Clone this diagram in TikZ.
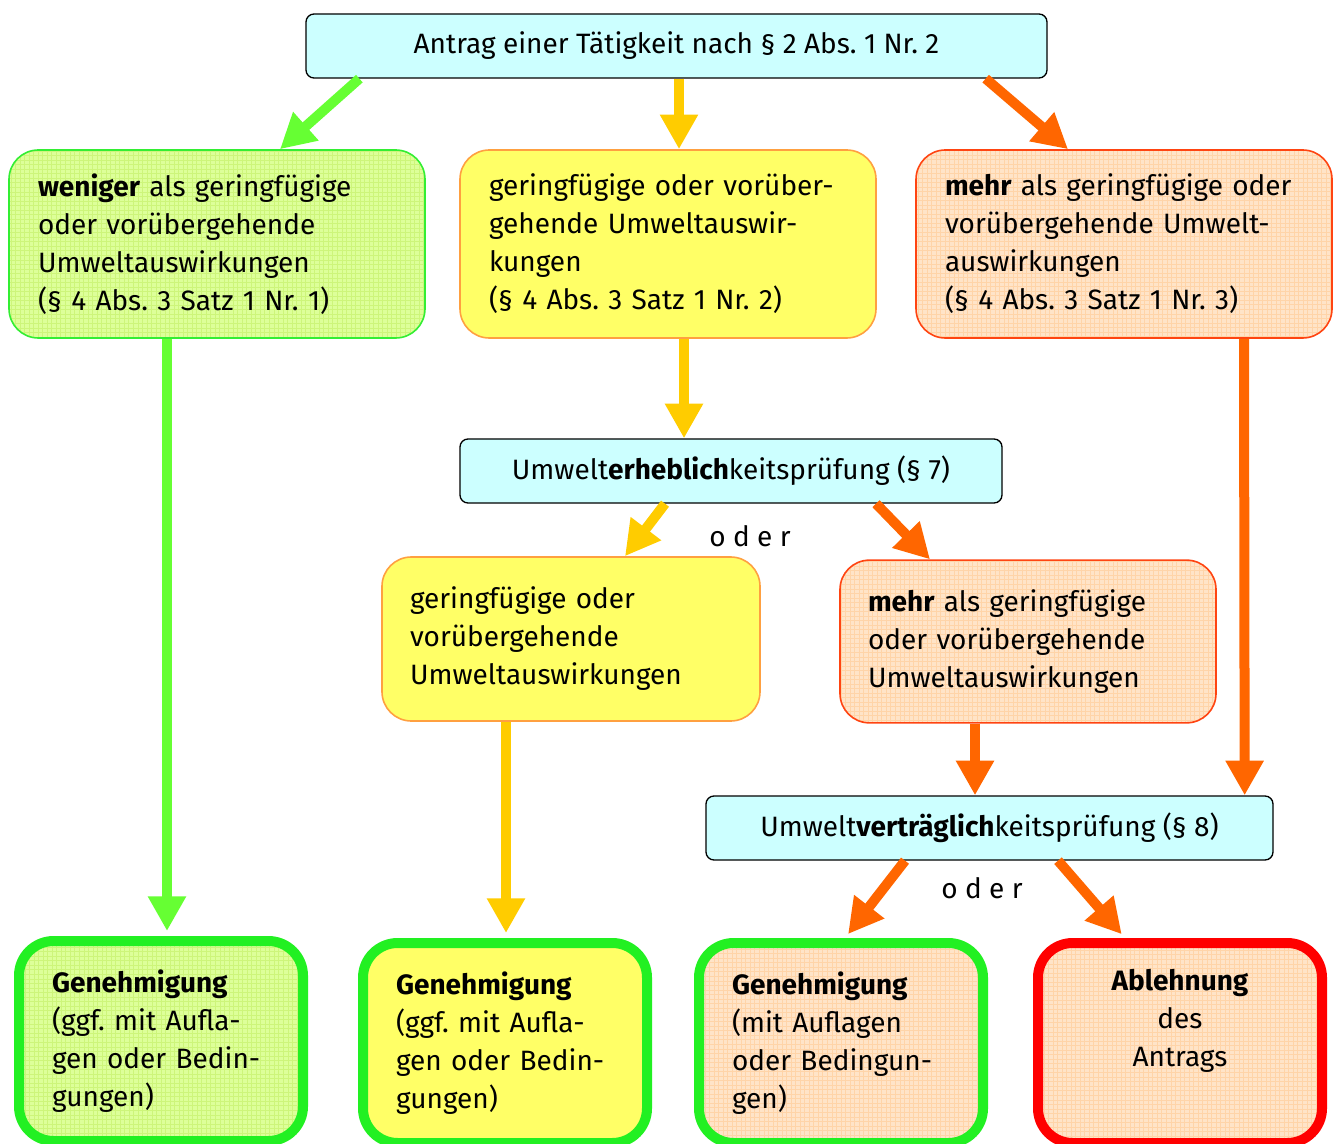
\documentclass[tikz,border=0pt]{standalone}
\usepackage{fontspec}
\setmainfont{Fira Sans}
\usetikzlibrary{arrows.meta,calc}
\definecolor{cyanfill}{HTML}{CCFFFF}
\definecolor{greenfill}{HTML}{DDFF99}
\definecolor{greengrid}{HTML}{CDF57A}
\definecolor{greenline}{HTML}{33EE33}
\definecolor{greenthick}{HTML}{22F022}
\definecolor{yellowfill}{HTML}{FFFF66}
\definecolor{yellowline}{HTML}{FFA040}
\definecolor{peachfill}{HTML}{FFE4C8}
\definecolor{peachgrid}{HTML}{FFD4A8}
\definecolor{orangeline}{HTML}{FF4411}
\definecolor{redline}{HTML}{FF0000}
\definecolor{arrG}{HTML}{66FF33}
\definecolor{arrY}{HTML}{FFCC00}
\definecolor{arrO}{HTML}{FF6600}
\tikzset{
  every node/.style={font=\fontsize{21}{28.5}\selectfont},
  gridfill/.style={path picture={\draw[#1, line width=0.35pt, step=3.4pt] (path picture bounding box.south west) grid (path picture bounding box.north east);}},
  headbox/.style={draw=black, line width=1pt, fill=cyanfill, rounded corners=6pt, minimum height=48pt, inner sep=0pt},
  midbox/.style={rounded corners=22pt, line width=1.2pt, align=left, inner sep=0pt},
  endbox/.style={rounded corners=26pt, line width=7.5pt, align=left, inner sep=0pt, minimum width=213pt, minimum height=150pt, text width=163.5pt},
  greenbox/.style={fill=greenfill, gridfill=greengrid},
  yellowbox/.style={fill=yellowfill},
  peachbox/.style={fill=peachfill, gridfill=peachgrid},
  arrow/.style={line width=7.5pt, -{Triangle[length=26pt, width=27pt]}},
  odertext/.style={font=\fontsize{21}{24}\selectfont}
}
\begin{document}
\frenchspacing
\begin{tikzpicture}[x=0.75pt, y=-0.75pt]
\useasboundingbox (0,0) rectangle (1334,1144);
\fill[white] (0,0) rectangle (1334,1144);

\node[headbox, minimum width=555.75pt] (top) at (676.5,46) {Antrag einer Tätigkeit nach § 2 Abs. 1 Nr. 2};

\node[midbox, greenbox, draw=greenline, minimum width=312pt, minimum height=141pt, text width=268.5pt] (A) at (217,244)
  {\textbf{weniger} als geringfügige\\oder vorübergehende\\Umweltauswirkungen\\(§ 4 Abs. 3 Satz 1 Nr. 1)};
\node[midbox, yellowbox, draw=yellowline, minimum width=312pt, minimum height=141pt, text width=268.5pt] (B) at (668,244)
  {geringfügige oder vorüber-\\gehende Umweltauswir-\\kungen\\(§ 4 Abs. 3 Satz 1 Nr. 2)};
\node[midbox, peachbox, draw=orangeline, minimum width=312pt, minimum height=141pt, text width=268.5pt] (C) at (1124,244)
  {\textbf{mehr} als geringfügige oder\\vorübergehende Umwelt-\\auswirkungen\\(§ 4 Abs. 3 Satz 1 Nr. 3)};

\node[headbox, minimum width=406.5pt] (UEP) at (731,471) {Umwelt\textbf{erheblich}keitsprüfung (§ 7)};
\node[odertext] (oder1) at (750,536) {o d e r};

\node[midbox, yellowbox, draw=yellowline, minimum width=283.5pt, minimum height=123pt, text width=241.5pt] (D) at (571,639)
  {geringfügige oder\\vorübergehende\\Umweltauswirkungen};
\node[midbox, peachbox, draw=orangeline, minimum width=282pt, minimum height=122pt, text width=240pt] (E) at (1028,641.5)
  {\textbf{mehr} als geringfügige\\oder vorübergehende\\Umweltauswirkungen};

\node[headbox, minimum width=425.25pt] (UVP) at (989.5,828) {Umwelt\textbf{verträglich}keitsprüfung (§ 8)};
\node[odertext] (oder2) at (982,888) {o d e r};

\node[endbox, greenbox, draw=greenthick] (G1) at (161,1041)
  {\textbf{Genehmigung}\\(ggf. mit Aufla-\\gen oder Bedin-\\gungen)};
\node[endbox, yellowbox, draw=greenthick] (G2) at (505,1043)
  {\textbf{Genehmigung}\\(ggf. mit Aufla-\\gen oder Bedin-\\gungen)};
\node[endbox, peachbox, draw=greenthick] (G3) at (841,1043)
  {\textbf{Genehmigung}\\(mit Auflagen\\oder Bedingun-\\gen)};
\node[endbox, peachbox, draw=redline, align=center] (AB) at (1180,1043)
  {\textbf{Ablehnung}\\des\\Antrags\\\strut};

% arrows
\draw[arrow, arrG] ([xshift=40.5pt]top.south west) -- ([xshift=47.25pt]A.north);
\draw[arrow, arrY] ([xshift=1.875pt]top.south) -- ([xshift=8.25pt]B.north);
\draw[arrow, arrO] ([xshift=-46.5pt]top.south east) -- ([xshift=-42pt]C.north);
\draw[arrow, arrG, shorten >=3.75pt] ([xshift=-37.5pt]A.south) -- ([xshift=4.5pt]G1.north);
\draw[arrow, arrY] ([xshift=12pt]B.south) -- ([xshift=-35.25pt]UEP.north);
\draw[arrow, arrO] ([xshift=90pt]C.south) -- ([xshift=-21.75pt]UVP.north east);
\draw[arrow, arrY] ([xshift=-49.5pt]UEP.south) -- ([xshift=40.5pt]D.north);
\draw[arrow, arrO] ([xshift=108.75pt]UEP.south) -- ([xshift=-73.5pt]E.north);
\draw[arrow, arrY, shorten >=3.75pt] ([xshift=-48.75pt]D.south) -- ([xshift=0.75pt]G2.north);
\draw[arrow, arrO] ([xshift=-39.75pt]E.south) -- ([xshift=-10.875pt]UVP.north);
\draw[arrow, arrO, shorten >=3.75pt] ([xshift=-63.375pt]UVP.south) -- ([xshift=3pt]G3.north);
\draw[arrow, arrO, shorten >=3.75pt] ([xshift=51.375pt]UVP.south) -- ([xshift=-41.25pt]AB.north);
\end{tikzpicture}
\end{document}
